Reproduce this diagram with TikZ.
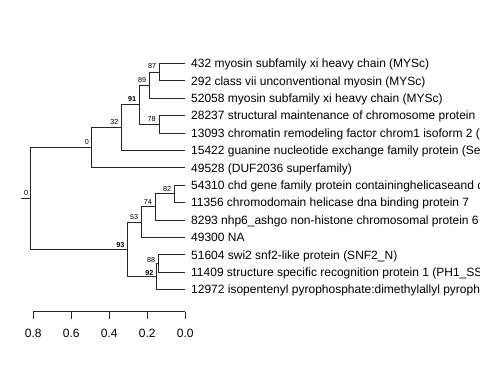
\documentclass[tikz,border=0pt]{standalone}
\usepackage{fontspec}
\setmainfont{Liberation Sans}

\begin{document}
\begin{tikzpicture}[
  x=1pt, y=-1pt,
  branch/.style={draw=black!85, line width=0.8pt},
  tiplab/.style={anchor=base west, inner sep=0pt, font=\fontsize{12}{14}\selectfont},
  boot/.style={anchor=south east, inner sep=0pt, font=\fontsize{7.2}{8}\selectfont},
  bootbf/.style={boot, font=\fontsize{7.2}{8}\selectfont\bfseries},
  ticklab/.style={anchor=base, inner sep=0pt, font=\fontsize{12}{14}\selectfont}
]
\useasboundingbox (0,0) rectangle (480,384);
\clip (0,0) rectangle (480,384);

% Tips
\coordinate (l432) at (185.3,63.3);
\coordinate (l292) at (185.3,80.7);
\coordinate (l52058) at (185.3,98.1);
\coordinate (l28237) at (185.3,115.5);
\coordinate (l13093) at (185.3,132.9);
\coordinate (l15422) at (185.3,150.3);
\coordinate (l49528) at (185.3,167.7);
\coordinate (l54310) at (185.3,185.1);
\coordinate (l11356) at (185.3,202.5);
\coordinate (l8293) at (185.3,219.9);
\coordinate (l49300) at (185.3,237.3);
\coordinate (l51604) at (185.3,254.7);
\coordinate (l11409) at (185.3,272.1);
\coordinate (l12972) at (185.3,289.5);

% Internal nodes
\coordinate (n87) at (159.3,72.0);
\coordinate (n89) at (149.3,85.05);
\coordinate (n78) at (159.3,124.2);
\coordinate (n91) at (139.3,104.6);
\coordinate (n32) at (121.5,127.45);
\coordinate (u0) at (91,147.6);
\coordinate (n82) at (174.3,193.8);
\coordinate (n74) at (155,206.85);
\coordinate (n53) at (141.3,222.1);
\coordinate (n88) at (158.3,263.4);
\coordinate (n92) at (156.7,276.45);
\coordinate (n93) at (127.5,249.3);
\coordinate (root) at (30.3,198.4);
\coordinate (stub) at (20.7,198.4);

% Branches
\draw[branch] (stub) -- (root);
\draw[branch] (root) |- (u0);
\draw[branch] (root) |- (n93);
\draw[branch] (u0) |- (n32);
\draw[branch] (u0) |- (l49528);
\draw[branch] (n32) |- (n91);
\draw[branch] (n32) |- (l15422);
\draw[branch] (n91) |- (n89);
\draw[branch] (n91) |- (n78);
\draw[branch] (n89) |- (n87);
\draw[branch] (n89) |- (l52058);
\draw[branch] (n87) |- (l432);
\draw[branch] (n87) |- (l292);
\draw[branch] (n78) |- (l28237);
\draw[branch] (n78) |- (l13093);
\draw[branch] (n93) |- (n53);
\draw[branch] (n93) |- (n92);
\draw[branch] (n53) |- (n74);
\draw[branch] (n53) |- (l49300);
\draw[branch] (n74) |- (n82);
\draw[branch] (n74) |- (l8293);
\draw[branch] (n82) |- (l54310);
\draw[branch] (n82) |- (l11356);
\draw[branch] (n92) |- (n88);
\draw[branch] (n92) |- (l12972);
\draw[branch] (n88) |- (l51604);
\draw[branch] (n88) |- (l11409);

% Support values
\node[boot] (broot) at ([shift={(-2,-3)}]root) {0};
\node[boot] (bu0) at ([shift={(-2,-2.5)}]u0) {0};
\node[boot] (b32) at ([shift={(-3,-2.5)}]n32) {32};
\node[bootbf] (b91) at ([shift={(-3,-2.5)}]n91) {91};
\node[boot] (b89) at ([shift={(-3,-2.5)}]n89) {89};
\node[boot] (b87) at ([shift={(-3,-3)}]n87) {87};
\node[boot] (b78) at ([shift={(-3.5,-2.5)}]n78) {78};
\node[bootbf] (b93) at ([shift={(-3,-2)}]n93) {93};
\node[boot] (b53) at ([shift={(-3,-2)}]n53) {53};
\node[boot] (b74) at ([shift={(-3,-2)}]n74) {74};
\node[boot] (b82) at ([shift={(-3,-2)}]n82) {82};
\node[boot] (b88) at ([shift={(-3,-1)}]n88) {88};
\node[bootbf] (b92) at ([shift={(-3,-0.5)}]n92) {92};

% Tip labels
\node[tiplab] (t432) at ([shift={(5.7,4.3)}]l432) {432 myosin subfamily xi heavy chain (MYSc)};
\node[tiplab] (t292) at ([shift={(5.7,4.3)}]l292) {292 class vii unconventional myosin (MYSc)};
\node[tiplab] (t52058) at ([shift={(5.7,4.3)}]l52058) {52058 myosin subfamily xi heavy chain (MYSc)};
\node[tiplab] (t28237) at ([shift={(5.7,4.3)}]l28237) {28237 structural maintenance of chromosome protein};
\node[tiplab] (t13093) at ([shift={(5.7,4.3)}]l13093) {13093 chromatin remodeling factor chrom1 isoform 2 (};
\node[tiplab] (t15422) at ([shift={(5.7,4.3)}]l15422) {15422 guanine nucleotide exchange family protein (Se};
\node[tiplab] (t49528) at ([shift={(5.7,4.3)}]l49528) {49528 (DUF2036 superfamily)};
\node[tiplab] (t54310) at ([shift={(5.7,4.3)}]l54310) {54310 chd gene family protein containinghelicaseand c};
\node[tiplab] (t11356) at ([shift={(5.7,4.3)}]l11356) {11356 chromodomain helicase dna binding protein 7};
\node[tiplab] (t8293) at ([shift={(5.7,4.3)}]l8293) {8293 nhp6\_ashgo non-histone chromosomal protein 6};
\node[tiplab] (t49300) at ([shift={(5.7,4.3)}]l49300) {49300 NA};
\node[tiplab] (t51604) at ([shift={(5.7,4.3)}]l51604) {51604 swi2 snf2-like protein (SNF2\_N)};
\node[tiplab] (t11409) at ([shift={(5.7,4.3)}]l11409) {11409 structure specific recognition protein 1 (PH1\_SS};
\node[tiplab] (t12972) at ([shift={(5.7,4.3)}]l12972) {12972 isopentenyl pyrophosphate:dimethylallyl pyroph};

% Scale axis
\draw[branch] (33.3,311.7) -- (185.3,311.7);
\draw[branch] (33.3,311.7) -- (33.3,319.3);
\draw[branch] (71.3,311.7) -- (71.3,319.3);
\draw[branch] (109.3,311.7) -- (109.3,319.3);
\draw[branch] (147.3,311.7) -- (147.3,319.3);
\draw[branch] (185.3,311.7) -- (185.3,319.3);
\node[ticklab] (x08) at (33.3,337.6) {0.8};
\node[ticklab] (x06) at (71.3,337.6) {0.6};
\node[ticklab] (x04) at (109.3,337.6) {0.4};
\node[ticklab] (x02) at (147.3,337.6) {0.2};
\node[ticklab] (x00) at (185.3,337.6) {0.0};

\end{tikzpicture}
\end{document}
